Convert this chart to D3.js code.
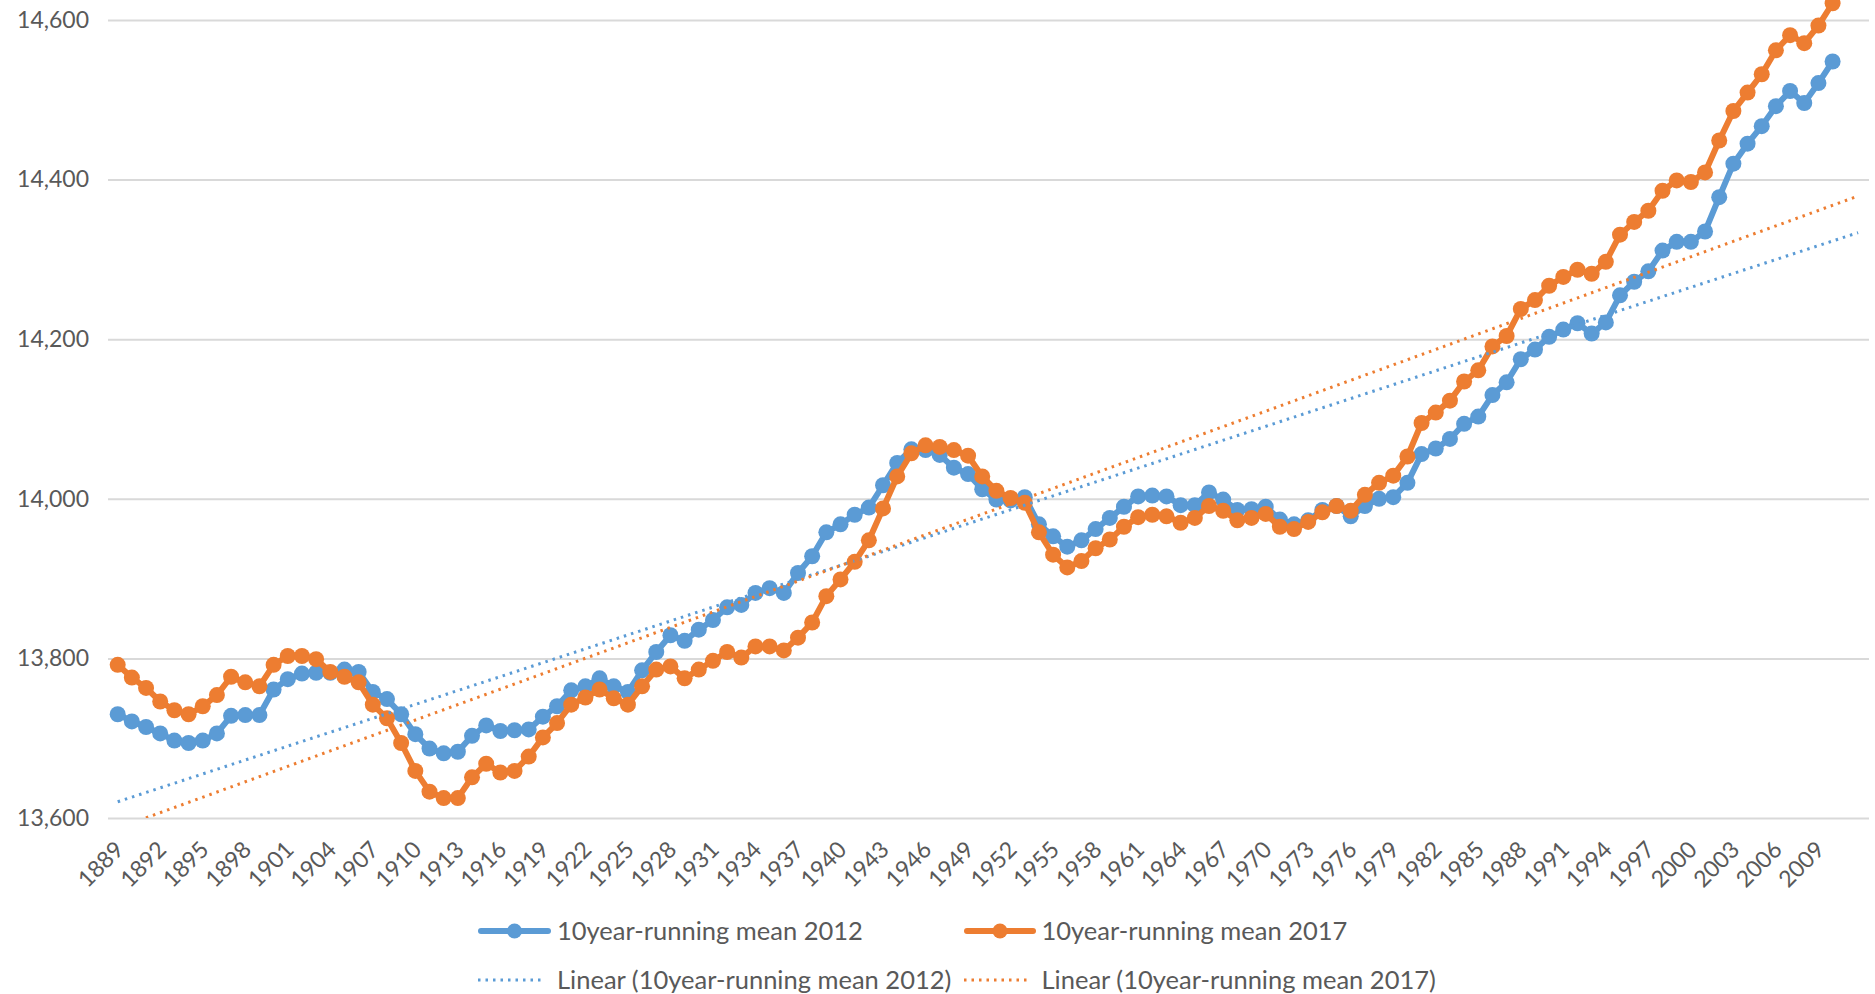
<!DOCTYPE html>
<html>
<head>
<meta charset="utf-8">
<script src="https://cdn.jsdelivr.net/npm/d3@7"></script>
<style>
  html, body { margin: 0; padding: 0; background: #fff; }
  svg { display: block; }
  text { font-family: Lato, "Open Sans", sans-serif; fill: #595959; }
</style>
</head>
<body>
<svg id="chart" width="1875" height="994"></svg>
<script>
// categories
var firstYear = 1889,
    lastYear = 2010;
var years = d3.range(firstYear, lastYear + 1);

// 10-year running means
var mean2012 = [
  13730, 13721, 13714, 13706, 13697, 13694, 13697, 13706, 13728, 13729,
  13729, 13761, 13774, 13781, 13782, 13782, 13786, 13783, 13758, 13749,
  13730, 13705, 13687, 13681, 13683, 13703, 13716, 13709, 13710, 13711,
  13727, 13740, 13760, 13765, 13775, 13765, 13758, 13785, 13808, 13829,
  13822, 13836, 13848, 13864, 13867, 13882, 13888, 13882, 13907, 13928,
  13958, 13968, 13980, 13989, 14017, 14045, 14062, 14061, 14055, 14039,
  14031, 14012, 13999, 13998, 14002, 13968, 13953, 13940, 13948, 13962,
  13976, 13990, 14003, 14004, 14003, 13992, 13992, 14008, 13999, 13986,
  13987, 13990, 13974, 13968, 13973, 13986, 13991, 13978, 13991, 14000,
  14002, 14020, 14056, 14063, 14075, 14094, 14103, 14130, 14146, 14175,
  14187, 14203, 14212, 14220, 14207, 14221, 14255, 14272, 14285, 14311,
  14322, 14322, 14335, 14378, 14420, 14445, 14467, 14492, 14511, 14496,
  14521, 14548
];

var mean2017 = [
  13792, 13776, 13763, 13746, 13735, 13730, 13740, 13754, 13777, 13770,
  13765, 13792, 13803, 13803, 13799, 13783, 13777, 13770, 13742, 13725,
  13694, 13659, 13633, 13625, 13625, 13651, 13668, 13657, 13659, 13677,
  13701, 13719, 13742, 13751, 13761, 13750, 13742, 13765, 13786, 13790,
  13775, 13786, 13797, 13808, 13801, 13815, 13815, 13810, 13826, 13845,
  13878, 13899, 13921, 13948, 13988, 14028, 14057, 14067, 14065, 14061,
  14054, 14028, 14010, 14001, 13995, 13958, 13930, 13914, 13922, 13938,
  13949, 13965, 13977, 13980, 13978, 13970, 13976, 13991, 13985, 13973,
  13976, 13981, 13965, 13962, 13971, 13983, 13991, 13985, 14005, 14020,
  14029, 14053, 14095, 14108, 14123, 14147, 14161, 14191, 14204, 14238,
  14249, 14267, 14278, 14287, 14282, 14297, 14331, 14347, 14361, 14386,
  14399, 14397, 14409, 14449, 14486, 14509, 14532, 14562, 14581, 14571,
  14593, 14621
];

var seriesNames = ['10year-running mean 2012', '10year-running mean 2017'];
var trendNames = ['Linear (10year-running mean 2012)', 'Linear (10year-running mean 2017)'];
var yTicks = [13600, 13800, 14000, 14200, 14400, 14600];
var labelYears = years.filter(function(yr) { return (yr - firstYear) % 3 === 0; });
var trendForward = 1.8; // periods the trendline runs past the last point

var colors = ['#5b9bd5', '#ed7d31'];

var svg = d3.select('#chart');

var plotLeft = 108,
    plotRight = 1869,
    plotBottom = 818;

var x = d3.scaleLinear().domain([firstYear, lastYear]).range([117.7, 1832.6]);
var y = d3.scaleLinear().domain([13600, 14600]).range([plotBottom, 20]);

svg.append('defs').append('clipPath')
  .attr('id', 'plot-clip')
  .append('rect')
  .attr('x', 0)
  .attr('y', -100)
  .attr('width', 1875)
  .attr('height', plotBottom + 100);

// gridlines + y labels
var yAxis = svg.append('g')
  .attr('transform', 'translate(' + plotLeft + ',0)')
  .call(d3.axisLeft(y)
    .tickValues(yTicks)
    .tickFormat(d3.format(','))
    .tickSizeInner(-(plotRight - plotLeft))
    .tickSizeOuter(0)
    .tickPadding(19));

yAxis.select('.domain').remove();
yAxis.attr('font-family', null).attr('font-size', null);
yAxis.selectAll('.tick line')
  .attr('stroke', '#d9d9d9')
  .attr('stroke-width', 2);
yAxis.selectAll('.tick text')
  .attr('font-size', 23);

// x labels, rotated
var xAxis = svg.append('g')
  .attr('transform', 'translate(0,' + plotBottom + ')')
  .call(d3.axisBottom(x)
    .tickValues(labelYears)
    .tickFormat(d3.format('d'))
    .tickSize(0));

xAxis.select('.domain').remove();
xAxis.attr('font-family', null).attr('font-size', null);
xAxis.selectAll('.tick text')
  .attr('font-size', 23)
  .attr('text-anchor', 'end')
  .attr('x', 0)
  .attr('y', 0)
  .attr('dy', 0)
  .attr('transform', 'translate(7,33) rotate(-45)');

// series
var line = d3.line()
  .x(function(d, i) { return x(years[i]); })
  .y(function(d) { return y(d); });

[mean2012, mean2017].forEach(function(vals, k) {
  var g = svg.append('g').attr('class', 'series');

  g.append('path')
    .datum(vals)
    .attr('fill', 'none')
    .attr('stroke', colors[k])
    .attr('stroke-width', 6)
    .attr('stroke-linejoin', 'round')
    .attr('d', line);

  g.selectAll('circle')
    .data(vals)
    .enter().append('circle')
    .attr('cx', function(d, i) { return x(years[i]); })
    .attr('cy', function(d) { return y(d); })
    .attr('r', 8)
    .attr('fill', colors[k]);
});

// least squares over the category index, like a spreadsheet trendline
function linearFit(vals) {
  var idx = d3.range(vals.length),
      mx = d3.mean(idx),
      my = d3.mean(vals),
      num = d3.sum(idx, function(i) { return (i - mx) * (vals[i] - my); }),
      den = d3.sum(idx, function(i) { return (i - mx) * (i - mx); }),
      slope = num / den;
  return function(i) { return my + slope * (i - mx); };
}

[mean2012, mean2017].forEach(function(vals, k) {
  var fit = linearFit(vals),
      ends = [0, vals.length - 1 + trendForward];

  svg.append('path')
    .datum(ends)
    .attr('clip-path', 'url(#plot-clip)')
    .attr('fill', 'none')
    .attr('stroke', colors[k])
    .attr('stroke-width', 3)
    .attr('stroke-dasharray', '2.5,5')
    .attr('d', d3.line()
      .x(function(i) { return x(firstYear + i); })
      .y(function(i) { return y(fit(i)); }));
});

// legend
var legendRows = [
  {y: 931, trend: false},
  {y: 980, trend: true}
];
var legendX = [[478, 551, 557], [964, 1036, 1041.5]];

legendRows.forEach(function(row) {
  [0, 1].forEach(function(k) {
    var g = svg.append('g').attr('class', 'legend-item');
    var x0 = legendX[k][0], x1 = legendX[k][1];

    if (row.trend) {
      g.append('line')
        .attr('x1', x0).attr('x2', x1 - 6)
        .attr('y1', row.y).attr('y2', row.y)
        .attr('stroke', colors[k])
        .attr('stroke-width', 3)
        .attr('stroke-dasharray', '2.5,5');
    } else {
      g.append('line')
        .attr('x1', x0 + 3).attr('x2', x1 - 3)
        .attr('y1', row.y).attr('y2', row.y)
        .attr('stroke', colors[k])
        .attr('stroke-width', 6)
        .attr('stroke-linecap', 'round');
      g.append('circle')
        .attr('cx', (x0 + x1) / 2)
        .attr('cy', row.y)
        .attr('r', 7.5)
        .attr('fill', colors[k]);
    }

    g.append('text')
      .attr('x', legendX[k][2])
      .attr('y', row.y)
      .attr('dy', '0.35em')
      .attr('font-size', 25.5)
      .text(row.trend ? trendNames[k] : seriesNames[k]);
  });
});
</script>
</body>
</html>
